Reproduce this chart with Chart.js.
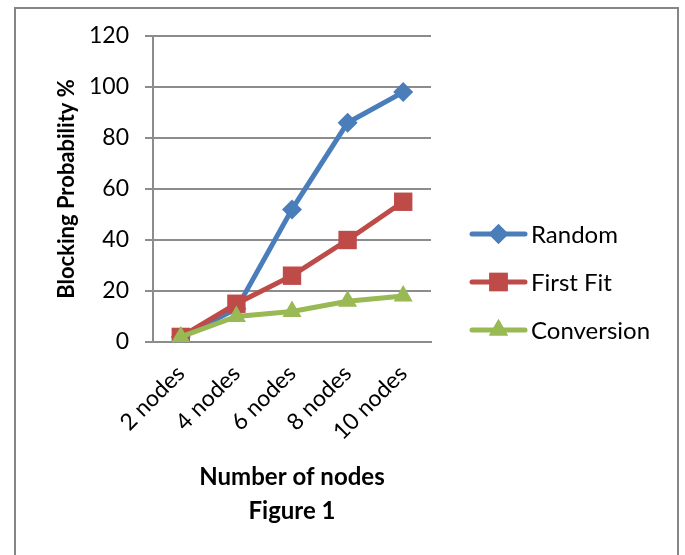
<!DOCTYPE html>
<html>
<head>
<meta charset="utf-8">
<script src="https://cdn.jsdelivr.net/npm/chart.js@4"></script>
<style>
  html, body { margin: 0; padding: 0; background: #fff; }
  #chart { display: block; }
</style>
</head>
<body>
<canvas id="chart" width="685" height="555"></canvas>
<script>
const categories = ['2 nodes', '4 nodes', '6 nodes', '8 nodes', '10 nodes']
const random = [2, 13, 52, 86, 98]
const firstFit = [2, 15, 26, 40, 55]
const conversion = [2, 10, 12, 16, 18]
const seriesNames = ['Random', 'First Fit', 'Conversion']

const blue = '#4a7ebb'
const red = '#be4b48'
const green = '#98b954'
const gridColor = '#8c8c8c'
const fontFamily = 'Lato, "Open Sans", sans-serif'

// frame round the whole chart
const framePlugin = {
  id: 'frame',
  beforeDraw(chart) {
    const c = chart.ctx
    c.save()
    c.fillStyle = '#fff'
    c.fillRect(0, 0, chart.width, chart.height)
    c.strokeStyle = '#868686'
    c.lineWidth = 2
    c.strokeRect(15, 8, 663, 600)
    c.restore()
  }
}

// Excel style legend: line with the marker in the middle
const sideLegend = {
  id: 'sideLegend',
  afterDraw(chart) {
    const c = chart.ctx
    const x0 = 472, x1 = 525
    const ys = [234, 282, 330]
    chart.data.datasets.forEach((ds, i) => {
      const y = ys[i]
      c.save()
      c.strokeStyle = ds.borderColor
      c.lineWidth = ds.borderWidth
      c.lineCap = 'round'
      c.beginPath()
      c.moveTo(x0, y)
      c.lineTo(x1, y)
      c.stroke()
      c.fillStyle = ds.backgroundColor
      Chart.helpers.drawPoint(c, {
        pointStyle: ds.pointStyle,
        radius: ds.pointRadius,
        rotation: 0,
        borderWidth: 0
      }, (x0 + x1) / 2, y)
      c.fill()
      c.fillStyle = '#000'
      c.font = '24px ' + fontFamily
      c.textBaseline = 'middle'
      c.textAlign = 'left'
      c.fillText(ds.label, x1 + 6, y + 1)
      c.restore()
    })
  }
}

function series(label, data, color, style, radius, order) {
  return {
    label: label,
    data: data,
    order: order,
    borderColor: color,
    backgroundColor: color,
    borderWidth: 5,
    pointStyle: style,
    pointRadius: radius,
    pointHoverRadius: radius,
    pointBorderWidth: 0,
    tension: 0
  }
}

const ctx = document.getElementById('chart').getContext('2d')
const myChart = new Chart(ctx, {
  type: 'line',
  data: {
    labels: categories,
    datasets: [
      series(seriesNames[0], random, blue, 'rectRot', 10, 3),
      series(seriesNames[1], firstFit, red, 'rect', 13, 2),
      series(seriesNames[2], conversion, green, 'triangle', 11, 1)
    ]
  },
  options: {
    responsive: false,
    animation: false,
    layout: {
      padding: { left: 14, right: 254, top: 36, bottom: 0 }
    },
    plugins: {
      legend: { display: false },
      tooltip: { enabled: false }
    },
    scales: {
      x: {
        offset: true,
        grid: { display: false, offset: true },
        border: { display: true, color: gridColor, width: 2 },
        ticks: {
          color: '#000',
          font: { family: fontFamily, size: 23 },
          minRotation: 45,
          maxRotation: 45,
          padding: 10
        },
        title: {
          display: true,
          text: ['Number of nodes', 'Figure 1'],
          color: '#000',
          font: { family: fontFamily, size: 24, weight: 'bold', lineHeight: 1.42 },
          padding: { top: 0, bottom: 27 }
        },
        afterFit(scale) { scale.height = 555 - 342 }
      },
      y: {
        min: 0,
        max: 120,
        ticks: {
          stepSize: 20,
          color: '#000',
          font: { family: fontFamily, size: 23 },
          padding: 16
        },
        grid: { color: gridColor, lineWidth: 2, tickLength: 8 },
        border: { display: true, color: gridColor, width: 2 },
        title: {
          display: true,
          text: 'Blocking Probability %',
          color: '#000',
          font: { family: fontFamily, size: 22, weight: 'bold', lineHeight: 1.2 },
          padding: { top: 40, bottom: 0 }
        },
        afterFit(scale) { scale.width = 153 - 14 }
      }
    }
  },
  plugins: [framePlugin, sideLegend]
})
</script>
</body>
</html>
